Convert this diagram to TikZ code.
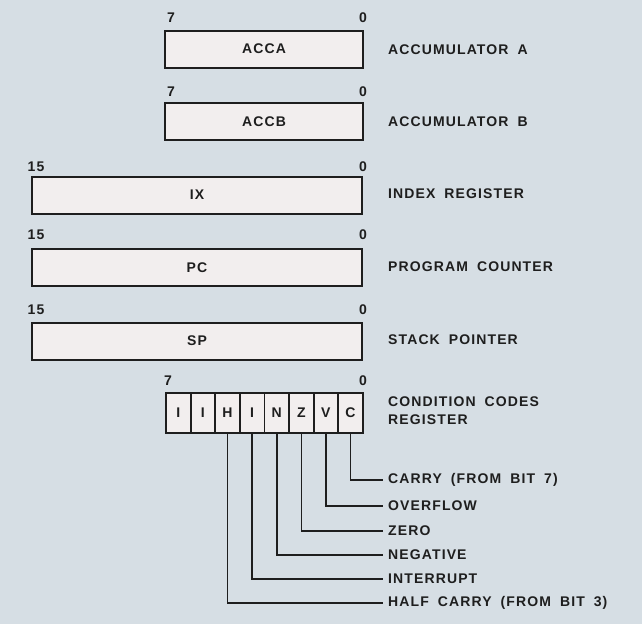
\documentclass[tikz,border=0pt]{standalone}
\usepackage{fontspec}
\setmainfont{Liberation Sans}[LetterSpace=8, WordSpace=1.8]
\definecolor{bgc}{RGB}{214,222,228}
\definecolor{boxc}{RGB}{242,238,238}
\definecolor{inkc}{RGB}{30,30,30}
\begin{document}
\begin{tikzpicture}[x=1pt,y=-1pt,
  lbl/.style={font=\fontsize{14}{16}\selectfont\bfseries, text=inkc, inner sep=0pt},
  reg/.style={draw=inkc, line width=2pt, fill=boxc, minimum height=37pt, inner sep=0pt, font=\fontsize{14}{16}\selectfont\bfseries, text=inkc},
  cell/.style={draw=inkc, line width=1.8pt, fill=boxc, minimum width=24.6pt, minimum height=40pt, inner sep=0pt, font=\fontsize{14}{16}\selectfont\bfseries, text=inkc},
  desc/.style={lbl, anchor=west},
  wire/.style={draw=inkc, line width=1.6pt}]
\fill[bgc] (0,0) rectangle (642,624);
\useasboundingbox (0,0) rectangle (642,624);
% accumulators
\node[reg, minimum width=198pt] (acca) at (264,49) {ACCA};
\node[lbl] (acca7) at (171,18) {7};
\node[lbl] (acca0) at (363,18) {0};
\node[desc] (accad) at (388,50) {ACCUMULATOR A};
\node[reg, minimum width=198pt] (accb) at (264,121.5) {ACCB};
\node[lbl] (accb7) at (171,92) {7};
\node[lbl] (accb0) at (363,92) {0};
\node[desc] (accbd) at (388,122) {ACCUMULATOR B};
% 16-bit registers
\node[reg, minimum width=330pt] (ix) at (197,195) {IX};
\node[lbl] (ix15) at (36,167) {15};
\node[lbl] (ix0) at (363,167) {0};
\node[desc] (ixd) at (388,194) {INDEX REGISTER};
\node[reg, minimum width=330pt] (pc) at (197,267.5) {PC};
\node[lbl] (pc15) at (36,235) {15};
\node[lbl] (pc0) at (363,235) {0};
\node[desc] (pcd) at (388,267) {PROGRAM COUNTER};
\node[reg, minimum width=330pt] (sp) at (197,341) {SP};
\node[lbl] (sp15) at (36,310) {15};
\node[lbl] (sp0) at (363,310) {0};
\node[desc] (spd) at (388,340) {STACK POINTER};
% condition codes
\node[lbl] (cc7) at (168,381) {7};
\node[lbl] (cc0) at (363,381) {0};
\foreach \t [count=\i from 0] in {I,I,H,I,N,Z,V,C} {
  \node[cell] (c\i) at ({166+12.3+24.6*\i},413) {\t};
}
\node[desc, align=left, font=\fontsize{14}{18}\selectfont\bfseries] (ccd) at (388,411) {CONDITION CODES\\REGISTER};
% flag descriptions
\node[desc] (fc) at (388,480) {CARRY (FROM BIT 7)};
\node[desc] (fv) at (388,506) {OVERFLOW};
\node[desc] (fz) at (388,531) {ZERO};
\node[desc] (fn) at (388,555) {NEGATIVE};
\node[desc] (fi) at (388,579) {INTERRUPT};
\node[desc] (fh) at (388,603) {HALF CARRY (FROM BIT 3)};
\draw[wire] (c7.south) |- ([xshift=-5pt]fc.west);
\draw[wire] (c6.south) |- ([xshift=-5pt]fv.west);
\draw[wire] (c5.south) |- ([xshift=-5pt]fz.west);
\draw[wire] (c4.south) |- ([xshift=-5pt]fn.west);
\draw[wire] (c3.south) |- ([xshift=-5pt]fi.west);
\draw[wire] (c2.south) |- ([xshift=-5pt]fh.west);
\end{tikzpicture}
\end{document}
